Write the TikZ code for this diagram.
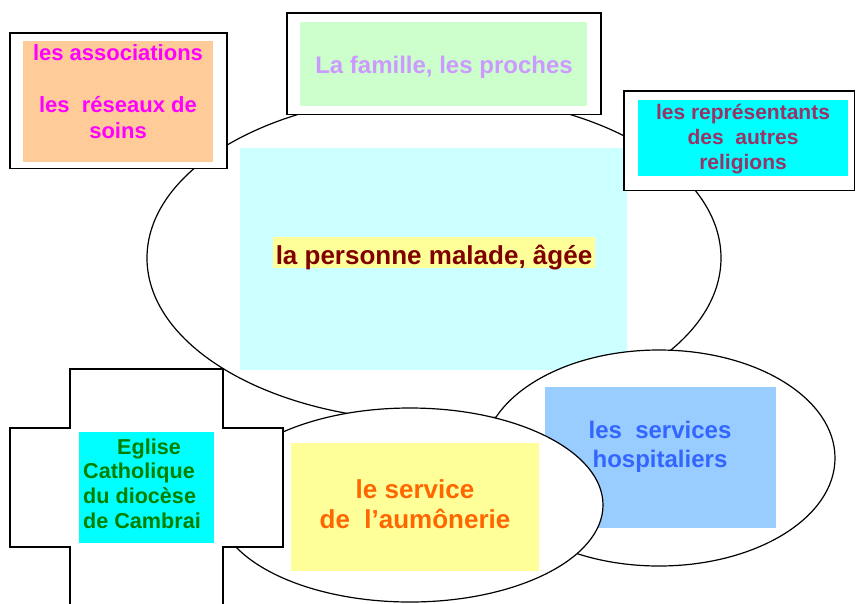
\documentclass[tikz,border=0pt]{standalone}
\usepackage{fontspec}
\setmainfont{Liberation Sans}
\definecolor{peach}{HTML}{FFCC99}
\definecolor{mintbg}{HTML}{CCFFCC}
\definecolor{aqua}{HTML}{00FFFF}
\definecolor{paleaqua}{HTML}{CCFFFF}
\definecolor{skyblue}{HTML}{99CCFF}
\definecolor{paleyellow}{HTML}{FFFF99}
\definecolor{magentatxt}{HTML}{FF00FF}
\definecolor{lilactxt}{HTML}{CC99FF}
\definecolor{plumtxt}{HTML}{993366}
\definecolor{maroontxt}{HTML}{800000}
\definecolor{bluetxt}{HTML}{3366FF}
\definecolor{orangetxt}{HTML}{FF6600}
\definecolor{greentxt}{HTML}{008000}
\begin{document}
\begin{tikzpicture}[x=1pt,y=-1pt,
  frame/.style={draw=black,fill=white,line width=1.5pt},
  oval/.style={draw=black,fill=white,line width=1.2pt},
  label/.style={inner sep=0pt,anchor=base,font=\bfseries}]
\useasboundingbox (0,0) rectangle (856,603);
% big ellipse
\path[oval] (434,258) ellipse [x radius=287, y radius=163];
\fill[paleaqua] (240,148) rectangle (627,370);
\node[label,fill=paleyellow,text=maroontxt,font=\fontsize{26}{30}\selectfont\bfseries,
  inner xsep=3pt,text height=27.5pt,text depth=3.5pt] (malade) at (434,264.5) {la personne malade, âgée};
% top-left box
\path[frame] (10,33) rectangle (227,168.5);
\fill[peach] (23,41) rectangle (213,162);
\node[label,text=magentatxt,font=\fontsize{22}{26}\selectfont\bfseries] (assoc) at (118,60)
  {\begin{tabular}[t]{@{}c@{}}les associations\\ \\ les\ \ réseaux de\\ soins\end{tabular}};
% top box
\path[frame] (287,13) rectangle (601,114.5);
\fill[mintbg] (300,22) rectangle (587,106);
\node[label,text=lilactxt,font=\fontsize{24}{28}\selectfont\bfseries] (famille) at (444,73) {La famille, les proches};
% right box
\path[frame] (624,91) rectangle (854.5,190.5);
\fill[aqua] (638,100) rectangle (848,176);
\node[label,text=plumtxt,font=\fontsize{21}{25}\selectfont\bfseries] (relig) at (743,119)
  {\begin{tabular}[t]{@{}c@{}}les représentants\\ des\ \ autres\\ religions\end{tabular}};
% hospital ellipse
\path[oval] (659,458) ellipse [x radius=176, y radius=108];
\fill[skyblue] (545,387) rectangle (776,528);
\node[label,text=bluetxt,font=\fontsize{24}{29}\selectfont\bfseries] (hosp) at (660,438)
  {\begin{tabular}[t]{@{}c@{}}les\ \ services\\ hospitaliers\end{tabular}};
% aumonerie ellipse
\path[oval] (410,505) ellipse [x radius=193, y radius=97];
\fill[paleyellow] (291,443) rectangle (539,571);
\node[label,text=orangetxt,font=\fontsize{26}{30}\selectfont\bfseries] (aumo) at (415,498)
  {\begin{tabular}[t]{@{}c@{}}le service\\ de\ \ l’aumônerie\end{tabular}};
% cross
\path[frame,line width=1.3pt] (70,369) -- (223,369) -- (223,428) -- (283,428) -- (283,547) -- (223,547)
  -- (223,610) -- (70,610) -- (70,547) -- (10,547) -- (10,428) -- (70,428) -- cycle;
\fill[aqua] (79,432) rectangle (214,543);
\node[label,anchor=base west,text=greentxt,font=\fontsize{21.6}{24.7}\selectfont\bfseries] (eglise) at (83,454)
  {\begin{tabular}[t]{@{}l@{}}\hspace*{34pt}Eglise\\ Catholique\\ du diocèse\\ de Cambrai\end{tabular}};
\end{tikzpicture}
\end{document}
